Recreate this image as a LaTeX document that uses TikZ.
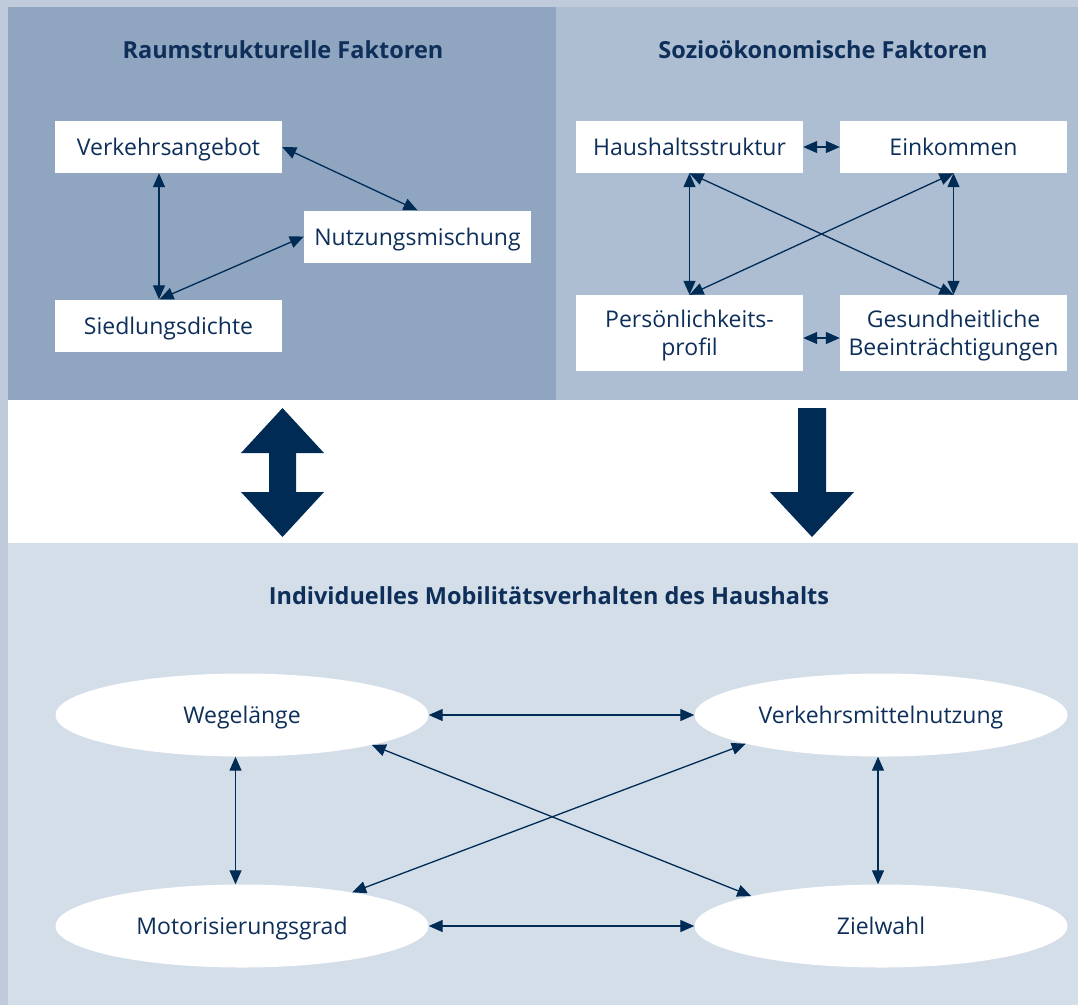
\documentclass[tikz,border=0pt]{standalone}
\usepackage{fontspec}
\setmainfont{Open Sans}
\usetikzlibrary{arrows.meta,shapes.geometric}
\definecolor{navy}{HTML}{002B55}
\definecolor{txt}{HTML}{0E2F5A}
\definecolor{outer}{HTML}{BFCADB}
\definecolor{panelA}{HTML}{8FA5C0}
\definecolor{panelB}{HTML}{ADBED3}
\definecolor{panelC}{HTML}{D3DEE8}
\tikzset{
  box/.style={fill=white, inner sep=0pt, minimum width=227pt, minimum height=52pt,
    text=txt, font=\fontsize{23}{28}\selectfont, align=center, text depth=0pt},
  oval/.style={ellipse, fill=white, inner sep=0pt, minimum width=373pt, minimum height=83pt,
    text=txt, font=\fontsize{23}{28}\selectfont, text depth=0pt},
  paneltitle/.style={text=txt, font=\bfseries\fontsize{23.5}{28}\selectfont},
  link/.style={draw=navy, line width=1.3pt,
    {Triangle[length=14pt,width=12pt]}-{Triangle[length=14pt,width=12pt]}},
  bigarrow/.style={fill=navy}
}
\begin{document}
\begin{tikzpicture}[x=1pt,y=-1pt]
\useasboundingbox (0,0) rectangle (1078,1005);
% backgrounds
\fill[outer] (0,0) rectangle (1078,1005);
\fill[panelA] (8,7) rectangle (556,400);
\fill[panelB] (556,7) rectangle (1078,400);
\fill[white] (8,400) rectangle (1078,543);
\fill[panelC] (8,543) rectangle (1078,1005);

% titles
\node[paneltitle] (t1) at (283,50) {Raumstrukturelle Faktoren};
\node[paneltitle] (t2) at (823,50) {Sozioökonomische Faktoren};
\node[paneltitle] (t3) at (549,596) {Individuelles Mobilitätsverhalten des Haushalts};

% left panel
\node[box] (va) at (168.5,147) {Verkehrsangebot};
\node[box] (nm) at (417.5,236.5) {Nutzungsmischung};
\node[box] (sd) at (168.5,325.5) {Siedlungsdichte};
\draw[link] ([xshift=-9.5pt]va.south) -- ([xshift=-9.5pt]sd.north);
\draw[link] (va.east) -- (nm.north);
\draw[link] ([xshift=-9pt]sd.north) -- (nm.west);

% right panel
\node[box] (hs) at (689.5,147) {Haushaltsstruktur};
\node[box] (ek) at (953.5,147) {Einkommen};
\node[box, minimum height=76pt] (pp) at (689.5,333) {Persönlichkeits-\\profil};
\node[box, minimum height=76pt] (gb) at (953.5,333) {Gesundheitliche\\Beeinträchtigungen};
\draw[link] (hs.east) -- (ek.west);
\draw[link] ([yshift=-5pt]pp.east) -- ([yshift=-5pt]gb.west);
\draw[link] (hs.south) -- (pp.north);
\draw[link] (ek.south) -- (gb.north);
\draw[link] (hs.south) -- (gb.north);
\draw[link] (ek.south) -- (pp.north);

% big arrows
\fill[bigarrow] (282.5,408) -- (324,453) -- (296,453) -- (296,492) -- (324,492)
  -- (282.5,537) -- (241,492) -- (269,492) -- (269,453) -- (241,453) -- cycle;
\fill[bigarrow] (798,408) -- (826,408) -- (826,492) -- (854,492) -- (812,537)
  -- (770,492) -- (798,492) -- cycle;

% bottom panel
\node[oval] (wl) at (242,715) {Wegelänge};
\node[oval] (vm) at (881,715) {Verkehrsmittelnutzung};
\node[oval] (mg) at (242,926) {Motorisierungsgrad};
\node[oval] (zw) at (881,926) {Zielwahl};
\draw[link] (wl.east) -- (vm.west);
\draw[link] (mg.east) -- (zw.west);
\draw[link] ([xshift=-6.5pt]wl.south) -- ([xshift=-6.5pt]mg.north);
\draw[link] ([xshift=-3pt]vm.south) -- ([xshift=-3pt]zw.north);
\draw[link] (wl.-13) -- (zw.167);
\draw[link] (vm.-168) -- (mg.17);
\end{tikzpicture}
\end{document}
